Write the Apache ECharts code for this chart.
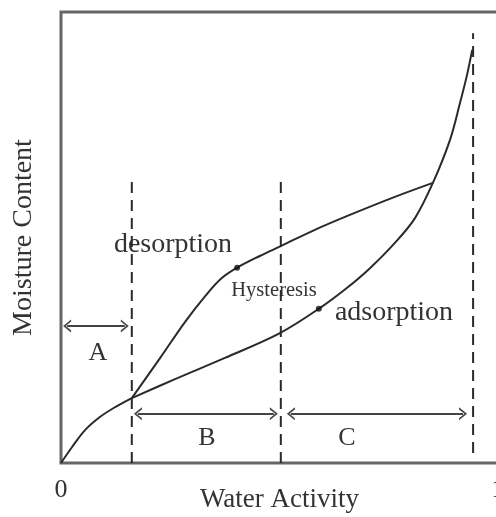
<!DOCTYPE html>
<html>
<head>
<meta charset="utf-8">
<script src="https://cdn.jsdelivr.net/npm/echarts@6/dist/echarts.min.js"></script>
<style>html,body{margin:0;padding:0;background:#fff}#c{width:496px;height:517px}</style>
</head>
<body>
<div id="c"></div>
<script>
// Shared monolayer segment (region A)
const monoX = [0, 0.025, 0.055, 0.089, 0.124, 0.162];
const monoY = [0, 3.5, 7.3, 10.2, 12.4, 14.4];
// Desorption branch (upper)
const desX = [0.162, 0.227, 0.284, 0.330, 0.368, 0.410, 0.455, 0.503, 0.581, 0.661, 0.764, 0.851];
const desY = [14.4, 23.3, 31.3, 37.0, 41.0, 43.7, 45.9, 48.1, 51.7, 55.0, 59.0, 62.1];
// Adsorption branch (lower, continuing to the steep rise)
const adsX = [0.162, 0.261, 0.375, 0.501, 0.593, 0.654, 0.707, 0.764, 0.810, 0.851, 0.890, 0.913, 0.929, 0.941];
const adsY = [14.4, 18.6, 23.3, 28.8, 34.4, 38.8, 43.2, 48.8, 54.3, 62.1, 71.6, 79.8, 86.0, 91.6];
// Direction markers on the branches
const markX = [0.403, 0.590];
const markY = [43.3, 34.2];
// Region boundaries (dashed)
const dashX = [0.162, 0.503, 0.943];
const dashBottom = [0, 0, 2.2];
const dashTop = [62.7, 63.2, 95.3];
// Region arrows
const regionNames = ['A', 'B', 'C'];
const arrowFrom = [0.014, 0.176, 0.526];
const arrowTo = [0.146, 0.487, 0.920];
const arrowY = [30.4, 10.9, 10.9];
// Axis tick labels
const xTicks = [0, 1];

const zip = (xs, ys) => xs.map((x, i) => [x, ys[i]]);
const ink = '#2a2a2a';
const font = '"Liberation Serif","Times New Roman",serif';
const chevron = 'path://M0,10L5,0L10,10L8.4,10L5,3.2L1.6,10Z';
const curve = { type: 'line', smooth: 0.35, symbol: 'none', lineStyle: { color: ink, width: 2 } };

const series = [
  Object.assign({}, curve, { data: zip(monoX, monoY) }),
  Object.assign({}, curve, { data: zip(desX, desY) }),
  Object.assign({}, curve, { data: zip(adsX, adsY) }),
  { type: 'scatter', data: zip(markX, markY), symbol: 'circle', symbolSize: 6, itemStyle: { color: '#111' }, z: 5 }
];
dashX.forEach((x, i) => {
  series.push({ type: 'line', data: [[x, dashBottom[i]], [x, dashTop[i]]], symbol: 'none',
    lineStyle: { color: ink, width: 2, type: [11, 7] } });
});
series.push({
  type: 'line', data: [], markLine: {
    silent: true, symbol: [chevron, chevron], symbolSize: [13, 8],
    lineStyle: { color: '#444', width: 2, type: 'solid' }, label: { show: false },
    data: regionNames.map((n, i) => [{ coord: [arrowFrom[i], arrowY[i]] }, { coord: [arrowTo[i], arrowY[i]] }])
  }
});

const chart = echarts.init(document.getElementById('c'), null, { renderer: 'canvas' });
chart.setOption({
  animation: false,
  grid: { left: 61, top: 12, right: -2, bottom: 54, show: true, borderColor: '#666', borderWidth: 3,
          containLabel: false, outerBoundsMode: 'none' },
  xAxis: {
    type: 'value', min: xTicks[0], max: xTicks[1], interval: 1,
    name: 'Water Activity', nameLocation: 'middle', nameGap: 23, nameMoveOverlap: false,
    nameTextStyle: { fontFamily: font, fontSize: 27, color: '#333' },
    axisLine: { show: false }, axisTick: { show: false }, splitLine: { show: false },
    axisLabel: { fontFamily: font, fontSize: 26, color: '#333', margin: 14, formatter: v => xTicks.includes(v) ? String(v) : '' }
  },
  yAxis: {
    type: 'value', min: 0, max: 100,
    name: 'Moisture Content', nameLocation: 'middle', nameGap: 23, nameRotate: 90, nameMoveOverlap: false,
    nameTextStyle: { fontFamily: font, fontSize: 28, color: '#333' },
    axisLine: { show: false }, axisTick: { show: false }, splitLine: { show: false }, axisLabel: { show: false }
  },
  series: series,
  graphic: [
    { type: 'text', x: 173, y: 245, style: { text: 'desorption', font: '28px ' + font, fill: '#333', textAlign: 'center', textVerticalAlign: 'middle' } },
    { type: 'text', x: 274, y: 291, style: { text: 'Hysteresis', font: '20.5px ' + font, fill: '#333', textAlign: 'center', textVerticalAlign: 'middle' } },
    { type: 'text', x: 394, y: 313, style: { text: 'adsorption', font: '28px ' + font, fill: '#333', textAlign: 'center', textVerticalAlign: 'middle' } },
    { type: 'text', x: 98, y: 353, style: { text: regionNames[0], font: '26px ' + font, fill: '#333', textAlign: 'center', textVerticalAlign: 'middle' } },
    { type: 'text', x: 207, y: 438, style: { text: regionNames[1], font: '26px ' + font, fill: '#333', textAlign: 'center', textVerticalAlign: 'middle' } },
    { type: 'text', x: 347, y: 438, style: { text: regionNames[2], font: '26px ' + font, fill: '#333', textAlign: 'center', textVerticalAlign: 'middle' } }
  ]
});
</script>
</body>
</html>
